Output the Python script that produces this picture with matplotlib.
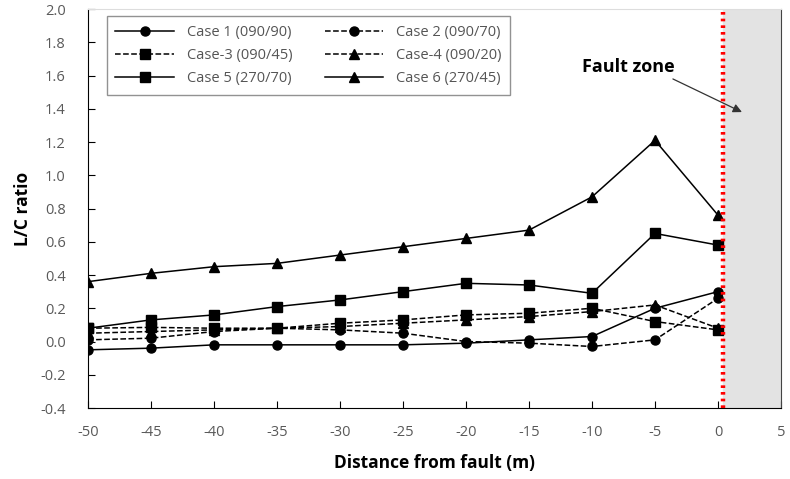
import numpy as np
import matplotlib.pyplot as plt

plt.rcParams['font.family'] = ['Open Sans', 'DejaVu Sans']
plt.rcParams['axes.unicode_minus'] = False

# distance from fault (m)
dist = [-50, -45, -40, -35, -30, -25, -20, -15, -10, -5, 0]

# L/C ratio
case1 = [-0.05, -0.04, -0.02, -0.02, -0.02, -0.02, -0.01, 0.01, 0.03, 0.20, 0.30]
case2 = [0.01, 0.02, 0.06, 0.08, 0.07, 0.05, 0.00, -0.01, -0.03, 0.01, 0.26]
case3 = [0.08, 0.085, 0.08, 0.08, 0.11, 0.13, 0.16, 0.17, 0.20, 0.12, 0.07]
case4 = [0.05, 0.06, 0.07, 0.08, 0.09, 0.11, 0.13, 0.15, 0.18, 0.22, 0.08]
case5 = [0.08, 0.13, 0.16, 0.21, 0.25, 0.30, 0.35, 0.34, 0.29, 0.65, 0.58]
case6 = [0.36, 0.41, 0.45, 0.47, 0.52, 0.57, 0.62, 0.67, 0.87, 1.21, 0.76]

labels = ["Case 1 (090/90)", "Case 2 (090/70)", "Case-3 (090/45)",
          "Case-4 (090/20)", "Case 5 (270/70)", "Case 6 (270/45)"]

fault_x = 0.4

fig = plt.figure(figsize=(7.9, 4.79), dpi=100)
ax = fig.add_axes([0.1114, 0.1482, 0.8772, 0.833])

ax.axvspan(fault_x, 5, color='#e3e3e3', zorder=0)
ax.axvline(fault_x, color='#ff0000', lw=3.2, ls=(0, (0.6, 0.9)), zorder=5)

k = dict(color='black', lw=1.1, ms=6.5)
h1, = ax.plot(dist, case1, '-', marker='o', label=labels[0], **k)
h2, = ax.plot(dist, case2, '--', marker='o', label=labels[1], **k)
h3, = ax.plot(dist, case3, '--', marker='s', label=labels[2], **k)
h4, = ax.plot(dist, case4, '--', marker='^', label=labels[3], **k)
h5, = ax.plot(dist, case5, '-', marker='s', label=labels[4], **k)
h6, = ax.plot(dist, case6, '-', marker='^', label=labels[5], **k)

ax.set_xlim(-50, 5)
ax.set_ylim(-0.4, 2.0)
ax.set_xticks(np.arange(-50, 6, 5))
ax.set_yticks(np.arange(-0.4, 2.01, 0.2))
ax.set_yticklabels([f"{v:.1f}" for v in np.arange(-0.4, 2.01, 0.2)])
ax.tick_params(direction='in', length=5, colors='black', labelcolor='#595959',
               labelsize=10.5)
ax.tick_params(axis='y', pad=16)
ax.tick_params(axis='x', pad=12)

ax.spines['top'].set_color('#dddddd')
ax.spines['right'].set_color('#444444')

ax.set_xlabel("Distance from fault (m)", fontsize=12.5, fontweight='bold', labelpad=10)
ax.set_ylabel("L/C ratio", fontsize=12.5, fontweight='bold', labelpad=6)

ax.annotate("Fault zone", xy=(1.9, 1.38), xytext=(-10.8, 1.62),
            fontsize=13, fontweight='bold',
            arrowprops=dict(arrowstyle='-|>', color='#333333', lw=0.9,
                            shrinkA=0, shrinkB=0,
                            relpos=(0.92, 0.0)))

# row-wise legend order: (1,2), (3,4), (5,6)
handles = [h1, h3, h5, h2, h4, h6]
leg = ax.legend(handles, [h.get_label() for h in handles], ncol=2,
                loc='upper left', bbox_to_anchor=(0.027, 0.982), borderaxespad=0,
                frameon=True, fancybox=False, shadow=False, fontsize=10.5,
                handlelength=4.0, columnspacing=2.2, labelspacing=0.55,
                borderpad=0.6, handletextpad=0.9)
leg.get_frame().set_edgecolor('#777777')
leg.get_frame().set_linewidth(1.0)
for t in leg.get_texts():
    t.set_color('#555555')

fig.savefig("out.png", dpi=100)
